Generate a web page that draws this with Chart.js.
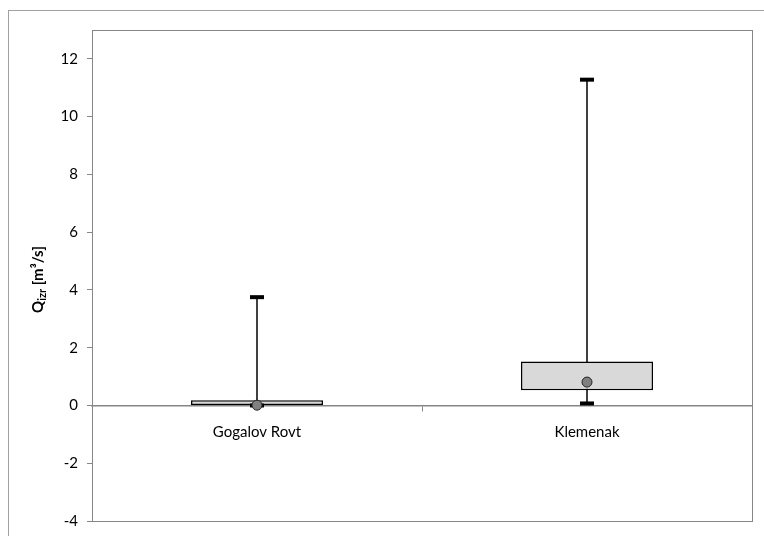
<!DOCTYPE html>
<html>
<head>
<meta charset="utf-8">
<script src="https://cdn.jsdelivr.net/npm/chart.js@4.4.0/dist/chart.umd.min.js"></script>
<style>
  html, body { margin: 0; padding: 0; background: #fff; }
  #wrap { width: 764px; height: 536px; }
</style>
</head>
<body>
<div id="wrap"><canvas id="boxChart"></canvas></div>
<script>
// box plot values
const stations = ["Gogalov Rovt", "Klemenak"];
const minVals = [0.0, 0.07];
const q1Vals = [0.0, 0.53];
const q3Vals = [0.18, 1.52];
const maxVals = [3.75, 11.28];
const meanVals = [0.01, 0.81];
const yTicks = [-4, -2, 0, 2, 4, 6, 8, 10, 12];

const axisGray = "#868686";
const font = "Lato, 'Open Sans', sans-serif";

// frame + y title (Q with subscript)
const framePlugin = {
  id: "frame",
  beforeDraw: (chart) => {
    const ctx = chart.ctx;
    const a = chart.chartArea;
    ctx.save();
    ctx.strokeStyle = "#a0a0a0";
    ctx.lineWidth = 1;
    ctx.strokeRect(8.5, 10.5, 900, 700);
    ctx.strokeStyle = axisGray;
    ctx.strokeRect(a.left + 0.5, a.top + 0.5, a.right - a.left, a.bottom - a.top);
    ctx.restore();
  },
  afterDraw: (chart) => {
    const ctx = chart.ctx;
    const a = chart.chartArea;
    ctx.save();
    ctx.translate(43, (a.top + a.bottom) / 2 + 4);
    ctx.rotate(-Math.PI / 2);
    ctx.fillStyle = "#000";
    ctx.textBaseline = "alphabetic";
    const big = "bold 15px " + font;
    const small = "bold 11px " + font;
    ctx.font = big;
    const w1 = ctx.measureText("Q").width;
    const w3 = ctx.measureText(" [m³/s]").width;
    ctx.font = small;
    const w2 = ctx.measureText("izr").width;
    let x = -(w1 + w2 + w3) / 2;
    ctx.font = big;
    ctx.fillText("Q", x, 0);
    x += w1;
    ctx.font = small;
    ctx.fillText("izr", x, 3);
    x += w2;
    ctx.font = big;
    ctx.fillText(" [m³/s]", x, 0);
    ctx.restore();
  },
};

const ctx = document.getElementById("boxChart").getContext("2d");
new Chart(ctx, {
  data: {
    labels: stations,
    datasets: [
      {
        type: "line",
        label: "mean",
        data: meanVals,
        showLine: false,
        pointStyle: "circle",
        pointRadius: 5,
        pointBackgroundColor: "#808080",
        pointBorderColor: "#262626",
        pointBorderWidth: 1,
        order: 0,
      },
      {
        type: "line",
        label: "max",
        data: maxVals,
        showLine: false,
        pointStyle: "line",
        pointRadius: 7,
        pointBorderColor: "#000",
        pointBorderWidth: 4,
        order: 1,
      },
      {
        type: "line",
        label: "min",
        data: minVals,
        showLine: false,
        pointStyle: "line",
        pointRadius: 7,
        pointBorderColor: "#000",
        pointBorderWidth: 4,
        order: 1,
      },
      {
        type: "bar",
        label: "box",
        data: q1Vals.map((v, i) => [v, q3Vals[i]]),
        backgroundColor: "#d9d9d9",
        borderColor: "#000",
        borderWidth: 1.5,
        borderSkipped: false,
        grouped: false,
        barPercentage: 0.4,
        categoryPercentage: 1,
        order: 2,
      },
      {
        type: "bar",
        label: "whisker",
        data: minVals.map((v, i) => [v, maxVals[i]]),
        backgroundColor: "#333333",
        borderWidth: 0,
        grouped: false,
        barThickness: 1.2,
        order: 3,
      },
    ],
  },
  options: {
    responsive: true,
    maintainAspectRatio: false,
    animation: false,
    layout: { padding: { left: 32, top: 30, right: 12, bottom: 15 } },
    plugins: {
      legend: { display: false },
      tooltip: { enabled: false },
    },
    scales: {
      x: {
        position: { y: 0 },
        offset: true,
        border: { color: axisGray, width: 1.5 },
        grid: {
          offset: true,
          drawOnChartArea: false,
          tickLength: 5,
          color: axisGray,
        },
        ticks: { color: "#000", font: { family: font, size: 15 }, padding: 13 },
      },
      y: {
        min: -4,
        max: 13,
        afterFit: (s) => {
          s.width = 60;
          s.paddingTop = 0;
          s.paddingBottom = 0;
        },
        afterBuildTicks: (s) => { s.ticks = yTicks.map((v) => ({ value: v })); },
        border: { color: axisGray, width: 1 },
        grid: { drawOnChartArea: false, tickLength: 5, color: axisGray },
        ticks: { color: "#000", font: { family: font, size: 15 }, padding: 9 },
      },
    },
  },
  plugins: [framePlugin],
});
</script>
</body>
</html>
